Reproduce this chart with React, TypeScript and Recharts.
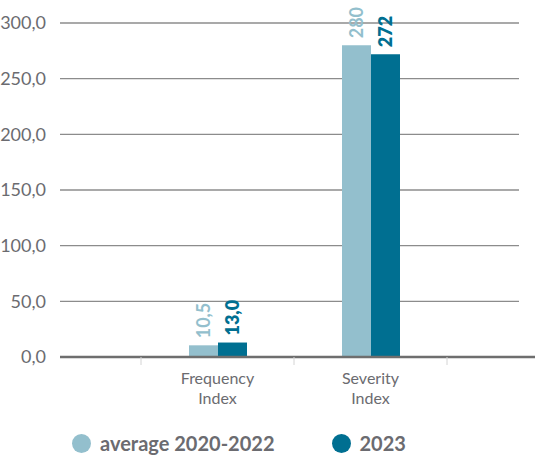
import { BarChart, Bar, XAxis, YAxis, CartesianGrid, LabelList } from 'recharts';

// Injury indices, two periods
const categories = ['Frequency Index', 'Severity Index'];
const avg2020to2022 = [10.5, 280];
const values2023 = [13.0, 272];
const yTicks = [0, 50, 100, 150, 200, 250, 300];

const SERIES = [
  { key: 'avg', name: 'average 2020-2022', color: '#93bfcd', weight: 700 },
  { key: 'y2023', name: '2023', color: '#006f91', weight: 800 },
];

const data = categories.map((c, i) => ({ category: c, avg: avg2020to2022[i], y2023: values2023[i] }));

const GREY = '#6b6b70';
const FONT = 'Lato, "Open Sans", sans-serif';

const fmtAxis = (v: number) => v.toFixed(1).replace('.', ',');
const fmtLabel = (v: number) => (v >= 100 ? String(Math.round(v)) : v.toFixed(1).replace('.', ','));

function CategoryTick(props: any) {
  const { x, y, payload, index, visibleTicksCount } = props;
  const half = payload?.offset ?? 76;
  const [first, second] = String(payload.value).split(' ');
  const isLast = index === (visibleTicksCount ?? categories.length) - 1;
  return (
    <g>
      <line x1={x - half} x2={x - half} y1={y - 8} y2={y} stroke="#d4d4d4" />
      {isLast && <line x1={x + half} x2={x + half} y1={y - 8} y2={y} stroke="#d4d4d4" />}
      <text x={x} y={y + 19} textAnchor="middle" fill={GREY} fontSize={16} fontFamily={FONT}>
        {first}
      </text>
      <text x={x} y={y + 39} textAnchor="middle" fill={GREY} fontSize={16} fontFamily={FONT}>
        {second}
      </text>
    </g>
  );
}

const rotatedLabel = (color: string, weight: number) => (p: any) => {
  const cx = p.x + p.width / 2;
  const top = p.y - 7;
  return (
    <text
      x={cx}
      y={top}
      transform={`rotate(-90 ${cx} ${top})`}
      textAnchor="start"
      dominantBaseline="central"
      fill={color}
      fontSize={18}
      fontWeight={weight}
      fontFamily={FONT}
    >
      {fmtLabel(Number(p.value))}
    </text>
  );
};

// gridlines stop short of the right edge; the baseline runs through
const gridLine = (p: any) => (
  <line key={p.key ?? p.y1} x1={p.x1} x2={p.x2 - 16} y1={p.y1} y2={p.y2} stroke="#8c8c8c" strokeWidth={1.3} />
);

export default function App() {
  return (
    <div style={{ position: 'absolute', left: 0, top: 0, width: 535, height: 457, background: '#fff' }}>
      <BarChart
        width={535}
        height={457}
        data={data}
        margin={{ top: 23, right: 0, left: 0, bottom: 0 }}
        barGap={0}
        barSize={29}
      >
        <CartesianGrid vertical={false} horizontal={gridLine} />
        <YAxis
          width={60}
          domain={[0, 300]}
          ticks={yTicks}
          tickFormatter={fmtAxis}
          axisLine={false}
          tickLine={false}
          tickMargin={8}
          tick={{ fill: GREY, fontSize: 18, fontFamily: FONT }}
        />
        <XAxis
          dataKey="category"
          height={100}
          padding={{ left: 81, right: 88 }}
          axisLine={{ stroke: '#6e6e6e', strokeWidth: 2.5 }}
          tickLine={false}
          interval={0}
          tick={<CategoryTick />}
        />
        {SERIES.map((s) => (
          <Bar key={s.key} dataKey={s.key} name={s.name} fill={s.color} isAnimationActive={false}>
            <LabelList dataKey={s.key} content={rotatedLabel(s.color, s.weight)} />
          </Bar>
        ))}
      </BarChart>
      <div
        style={{
          position: 'absolute',
          top: 431,
          left: 72,
          display: 'flex',
          alignItems: 'center',
          fontFamily: FONT,
          fontWeight: 700,
          fontSize: 20,
          color: GREY,
          lineHeight: '24px',
        }}
      >
        {SERIES.map((s, i) => (
          <div key={s.key} style={{ display: 'flex', alignItems: 'center', marginRight: i === 0 ? 57 : 0 }}>
            <span
              style={{ width: 19, height: 19, borderRadius: '50%', background: s.color, display: 'inline-block', marginRight: 9 }}
            />
            <span>{s.name}</span>
          </div>
        ))}
      </div>
    </div>
  );
}
